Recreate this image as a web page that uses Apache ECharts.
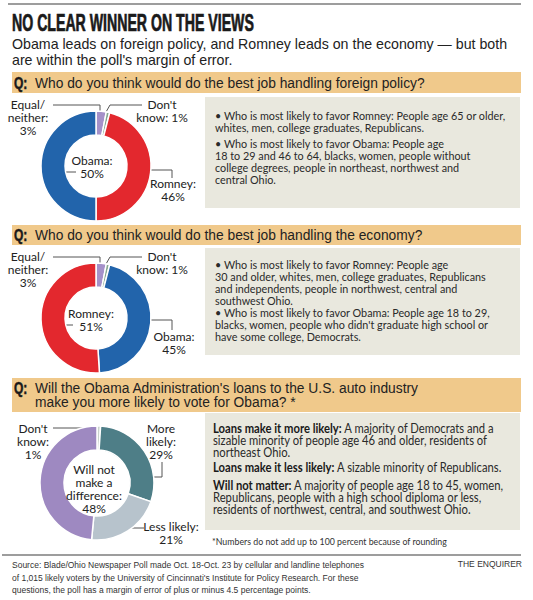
<!DOCTYPE html>
<html>
<head>
<meta charset="utf-8">
<script src="https://cdn.jsdelivr.net/npm/echarts@6/dist/echarts.min.js"></script>
<style>
  html, body { margin: 0; padding: 0; background: #fff; }
  #chart { width: 533px; height: 600px; }
</style>
</head>
<body>
<div id="chart"></div>
<script>
// poll results
const foreignNames = ['Equal/neither', "Don't know", 'Romney', 'Obama'];
const foreignValues = [3, 1, 46, 50];
const foreignLabels = ['Equal/\nneither:\n', "Don't\nknow: ", 'Romney:\n', 'Obama:\n'];

const economyNames = ['Equal/neither', "Don't know", 'Obama', 'Romney'];
const economyValues = [3, 1, 45, 51];
const economyLabels = ['Equal/\nneither:\n', "Don't\nknow: ", 'Obama:\n', 'Romney:\n'];

const autoNames = ["Don't know", 'More likely', 'Less likely', 'Will not make a difference'];
const autoValues = [1, 29, 21, 48];
const autoLabels = ["Don't\nknow:\n", 'More\nlikely:\n', 'Less likely:\n', 'Will not\nmake a\ndifference:\n'];

const BLUE = '#2264ab', RED = '#e3282e', LILAC = '#a591c9', DK = '#86a890';
const TEAL = '#4e7e87', PALE = '#b7c3cc', PURPLE = '#9e89c1', DK3 = '#c9d3cc';

const sans = '"Liberation Sans", Arial, sans-serif';
const body = 'Lato, "Open Sans", sans-serif';

// label placement relative to each donut centre: text centre + leader line
const foreignPlace = [
  { t: [-68, -49], line: [[4, -54], [4, -61], [-43, -61]] },
  { t: [66, -55], line: [[10, -54], [14, -61], [46, -61]] },
  { t: [77, 24], line: [[39, 4], [76, 4], [76, 12]] },
  { t: [-4, 0.5], line: [[-46, 6], [-20, 6]] }
];
const economyPlace = [
  { t: [-68, -49], line: [[4, -54], [4, -61], [-43, -61]] },
  { t: [66, -55], line: [[10, -54], [14, -61], [46, -61]] },
  { t: [78, 24.5], line: [[37, 2], [76, 2], [76, 12]] },
  { t: [-5, 1.5], line: [[-48, 7], [-23, 7]] }
];
const autoPlace = [
  { t: [-64, -41.5], line: [[-1, -48], [-1, -55], [-44, -55]] },
  { t: [64, -41.5], line: [[40, -6], [65, -6], [65, -21]] },
  { t: [74, 50], line: [[22, 45], [47, 45]] },
  { t: [-3, 6], line: [[-47, 25], [-30, 25]] }
];

function donut(names, values, colors, texts, center, radius, place) {
  return {
    type: 'pie',
    center: center,
    radius: radius,
    startAngle: 90,
    clockwise: true,
    avoidLabelOverlap: false,
    silent: true,
    emphasis: { disabled: true },
    itemStyle: { borderColor: '#fff', borderWidth: 1.5 },
    label: {
      show: true,
      position: 'outside',
      formatter: p => texts[p.dataIndex] + p.value + '%',
      fontFamily: body, fontSize: 12, lineHeight: 13, color: '#222', align: 'center'
    },
    labelLine: { show: true, length: 6, length2: 6, lineStyle: { color: '#555', width: 1 } },
    labelLayout: p => {
      const s = place[p.dataIndex];
      return {
        x: center[0] + s.t[0],
        y: center[1] + s.t[1],
        align: 'center',
        verticalAlign: 'middle',
        labelLinePoints: s.line.map(q => [center[0] + q[0], center[1] + q[1]])
      };
    },
    data: names.map((n, i) => ({ name: n, value: values[i], itemStyle: { color: colors[i] } }))
  };
}

const box1a = '• Who is most likely to favor Romney: People age 65 or older,\nwhites, men, college graduates, Republicans.';
const box1b = '• Who is most likely to favor Obama: People age\n18 to 29 and 46 to 64, blacks, women, people without\ncollege degrees, people in northeast, northwest and\ncentral Ohio.';
const box2 = '• Who is most likely to favor Romney: People age\n30 and older, whites, men, college graduates, Republicans\nand independents, people in northwest, central and\nsouthwest Ohio.\n• Who is most likely to favor Obama: People age 18 to 29,\nblacks, women, people who didn\'t graduate high school or\nhave some college, Democrats.';
const box3a = '{b|Loans make it more likely:} A majority of Democrats and a\nsizable minority of people age 46 and older, residents of\nnortheast Ohio.';
const box3b = '{b|Loans make it less likely:} A sizable minority of Republicans.';
const box3c = '{b|Will not matter:} A majority of people age 18 to 45, women,\nRepublicans, people with a high school diploma or less,\nresidents of northwest, central, and southwest Ohio.';
const source = 'Source: Blade/Ohio Newspaper Poll made Oct. 18-Oct. 23 by cellular and landline telephones\nof 1,015 likely voters by the University of Cincinnati\'s Institute for Policy Research. For these\nquestions, the poll has a margin of error of plus or minus 4.5 percentage points.';

function txt(x, y, text, o, sx) {
  const el = { type: 'text', x: x, y: y, silent: true, style: Object.assign({ text: text, fill: '#222', verticalAlign: 'top' }, o) };
  if (sx) { el.scaleX = sx; el.originX = 0; }
  return el;
}
function rect(x, y, w, h, fill) {
  return { type: 'rect', silent: true, shape: { x: x, y: y, width: w, height: h }, style: { fill: fill } };
}
function hline(x1, x2, y) {
  return { type: 'line', silent: true, shape: { x1: x1, y1: y, x2: x2, y2: y }, style: { stroke: '#9d9d9d', lineWidth: 2 } };
}
function qmark(y) {
  return txt(14, y, 'Q:', { fontFamily: sans, fontWeight: 'bold', fontSize: 16, fill: '#1a1a1a', stroke: '#1a1a1a', lineWidth: 0.5, verticalAlign: 'middle' }, 0.75);
}

const bodyStyle = { fontFamily: body, fontSize: 12, lineHeight: 12, fill: '#2a2a2a' };
const boldRich = { rich: { b: { fontFamily: body, fontSize: 12.5, lineHeight: 12, fontWeight: 'bold', fill: '#1a1a1a' } } };
const box3Style = Object.assign({}, boldRich, bodyStyle, { fontSize: 12.5 });
const BAR = '#f0c98b', BOX = '#e9e8de';
const SQ = 0.9;

const chart = echarts.init(document.getElementById('chart'), null, { renderer: 'svg' });
chart.setOption({
  animation: false,
  backgroundColor: '#fff',
  series: [
    donut(foreignNames, foreignValues, [LILAC, DK, RED, BLUE], foreignLabels, [96, 166], [31, 55], foreignPlace),
    donut(economyNames, economyValues, [LILAC, DK, BLUE, RED], economyLabels, [96, 318], [31, 55], economyPlace),
    donut(autoNames, autoValues, [DK3, TEAL, PALE, PURPLE], autoLabels, [97, 483], [33, 57], autoPlace)
  ],
  graphic: [
    hline(8, 521, 4),
    txt(12, 23, 'NO CLEAR WINNER ON THE VIEWS', { fontFamily: sans, fontWeight: 'bold', fontSize: 23, fill: '#1a1a1a', stroke: '#1a1a1a', lineWidth: 0.7, verticalAlign: 'middle' }, 0.615),
    txt(12, 36, 'Obama leads on foreign policy, and Romney leads on the economy — but both\nare within the poll\'s margin of error.', { fontFamily: sans, fontSize: 14.2, lineHeight: 16 }),

    rect(12, 72, 509, 21, BAR),
    qmark(83),
    txt(35, 83, 'Who do you think would do the best job handling foreign policy?', { fontFamily: sans, fontSize: 13.8, verticalAlign: 'middle' }),
    rect(205, 97, 315, 111, BOX),
    txt(215, 109, box1a, bodyStyle, SQ),
    txt(215, 137, box1b, bodyStyle, SQ),

    rect(12, 225, 509, 20, BAR),
    qmark(235),
    txt(35, 235, 'Who do you think would do the best job handling the economy?', { fontFamily: sans, fontSize: 13.8, verticalAlign: 'middle' }),
    rect(205, 248, 315, 107, BOX),
    txt(215, 258, box2, bodyStyle, SQ),

    rect(12, 378, 509, 34, BAR),
    qmark(388),
    txt(35, 381, 'Will the Obama Administration\'s loans to the U.S. auto industry\nmake you more likely to vote for Obama? *', { fontFamily: sans, fontSize: 13.8, lineHeight: 14 }),
    rect(205, 413, 315, 117, BOX),
    txt(213, 422, box3a, box3Style, SQ),
    txt(213, 461, box3b, box3Style, SQ),
    txt(213, 479, box3c, box3Style, SQ),
    txt(212, 541, '*Numbers do not add up to 100 percent because of rounding', { fontFamily: body, fontSize: 10, fill: '#333', verticalAlign: 'middle' }, 0.88),

    hline(2, 521, 555),
    txt(12, 559, source, { fontFamily: sans, fontSize: 8.5, lineHeight: 12.5, fill: '#333' }),
    txt(522, 559, 'THE ENQUIRER', { fontFamily: sans, fontSize: 8.5, fill: '#333', align: 'right' })
  ]
});
</script>
</body>
</html>
